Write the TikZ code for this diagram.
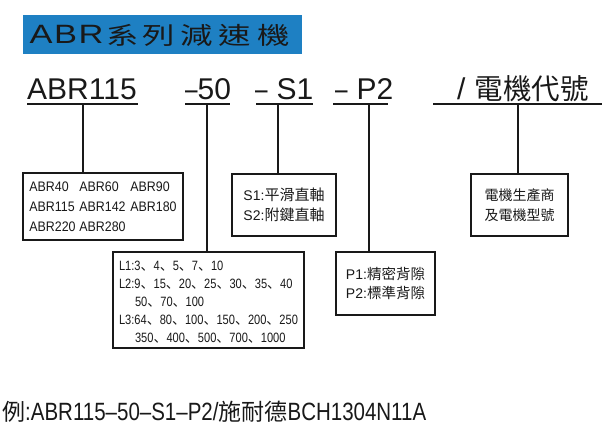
\documentclass[tikz,border=0pt]{standalone}
\usepackage{fontspec}
\setmainfont{Liberation Sans}
\newfontfamily\cjk{Noto Sans CJK TC}
\newfontfamily\cjksc{Noto Sans CJK SC}
\newfontfamily\nar[FakeStretch=0.82]{Liberation Sans}
\newfontfamily\narb[FakeStretch=0.9]{Liberation Sans}
\definecolor{titleblue}{RGB}{30,128,195}
\definecolor{ink}{RGB}{25,25,25}
\newcommand\dn{\makebox[13pt][l]{\cjksc 、}}
\newcommand\sdash{\scalebox{.75}[1]{–}}
\newcommand\wl[1]{\scalebox{1.3}[1]{#1}}
\newcommand\wc[1]{\scalebox{1.35}[1]{#1}}
\tikzset{
  txt/.style={inner sep=0pt, text=ink},
  tlat/.style={txt, anchor=base, font=\fontsize{26.5}{26.5}\selectfont},
  tcjk/.style={txt, anchor=base, font=\cjk\fontsize{24}{24}\selectfont},
  code/.style={txt, anchor=base west, font=\fontsize{30}{30}\selectfont},
  uline/.style={line width=1.8pt, draw=ink},
  conn/.style={line width=1.8pt, draw=ink},
  box/.style={draw=ink, line width=2pt, anchor=north west, inner sep=0pt, text=ink},
}
\begin{document}
\begin{tikzpicture}[x=1pt,y=-1pt]
\useasboundingbox (0,0) rectangle (607,432);
% title
\node[fill=titleblue, anchor=north west, minimum width=279pt, minimum height=38.5pt, inner sep=0pt] (title) at (23,15) {};
\node[tlat] (t1) at (41,43.3) {\wl{A}};
\node[tlat] (t2) at (65.5,43.3) {\wl{B}};
\node[tlat] (t3) at (91,43.3) {\wl{R}};
\node[tcjk] (t4) at (122.5,44) {\wc{系}};
\node[tcjk] (t5) at (158.5,44) {\wc{列}};
\node[tcjk] (t6) at (197,44) {\wc{減}};
\node[tcjk] (t7) at (235,44) {\wc{速}};
\node[tcjk] (t8) at (274,44) {\wc{機}};
% code row
\node[code] (c1) at (27,99) {ABR115};
\node[code] (c2) at (185,99) {\sdash 50};
\node[code] (c3) at (255,99) {\sdash\hspace{9pt}S1};
\node[code] (c4) at (335,99) {\sdash\hspace{9pt}P2};
\node[code] (c5) at (457,99) {/\hspace{9pt}{\cjk\fontsize{28.5}{28.5}\selectfont 電機代號}};
% underlines
\draw[uline] (27,104) -- (138,104);
\draw[uline] (185,104) -- (230,104);
\draw[uline] (256,104) -- (313,104);
\draw[uline] (333,104) -- (388,104);
\draw[uline] (433,104) -- (602,104);
\coordinate (u1) at (83,104);
\coordinate (u2) at (207,104);
\coordinate (u3) at (278,104);
\coordinate (u4) at (369,104);
\coordinate (u5) at (518,104);
% boxes
\node[box, minimum width=160pt, minimum height=67pt, align=left,
      font=\narb\fontsize{13.8}{19.8}\selectfont] (abr) at (22,172)
  {\makebox[50pt][l]{ABR40}\makebox[51pt][l]{ABR60}ABR90\\
   \makebox[50pt][l]{ABR115}\makebox[51pt][l]{ABR142}ABR180\\
   \makebox[50pt][l]{ABR220}ABR280};
\node[box, minimum width=104pt, minimum height=62pt, align=left,
      font=\fontsize{14}{19.8}\selectfont] (sbox) at (231,173)
  {S1:{\cjk\fontsize{15}{19.8}\selectfont 平滑直軸}\\S2:{\cjk\fontsize{15}{19.8}\selectfont 附鍵直軸}};
\node[box, minimum width=191pt, minimum height=96pt, align=left,
      font=\nar\fontsize{13.5}{17.9}\selectfont] (lbox) at (112,251)
  {\rule{0pt}{14pt}L1:3\dn 4\dn 5\dn 7\dn 10\\
   L2:9\dn 15\dn 20\dn 25\dn 30\dn 35\dn 40\\
   \hspace*{16pt}50\dn 70\dn 100\\
   L3:64\dn 80\dn 100\dn 150\dn 200\dn 250\\
   \hspace*{16pt}350\dn 400\dn 500\dn 700\dn 1000};
\node[box, minimum width=99pt, minimum height=63pt, align=left,
      font=\fontsize{14}{19.8}\selectfont] (pbox) at (335,251)
  {P1:{\cjk\fontsize{14.5}{19.8}\selectfont 精密背隙}\\P2:{\cjk\fontsize{14.5}{19.8}\selectfont 標準背隙}};
\node[box, minimum width=97pt, minimum height=62pt, align=center,
      font=\cjk\fontsize{14}{20}\selectfont] (mbox) at (470,173)
  {電機生產商\\及電機型號};
% connectors
\draw[conn] (u1) -- (u1 |- abr.north);
\draw[conn] (u2) -- (u2 |- lbox.north);
\draw[conn] (u3) -- (u3 |- sbox.north);
\draw[conn] (u4) -- (u4 |- pbox.north);
\draw[conn] (u5) -- (u5 |- mbox.north);
% example
\node[txt, anchor=base west, font=\nar\fontsize{25}{25}\selectfont] (ex) at (2,420)
  {{\cjk\fontsize{23}{23}\selectfont 例}:ABR115–50–S1–P2/{\cjk\fontsize{23}{23}\selectfont 施耐德}BCH1304N11A};
\end{tikzpicture}
\end{document}
